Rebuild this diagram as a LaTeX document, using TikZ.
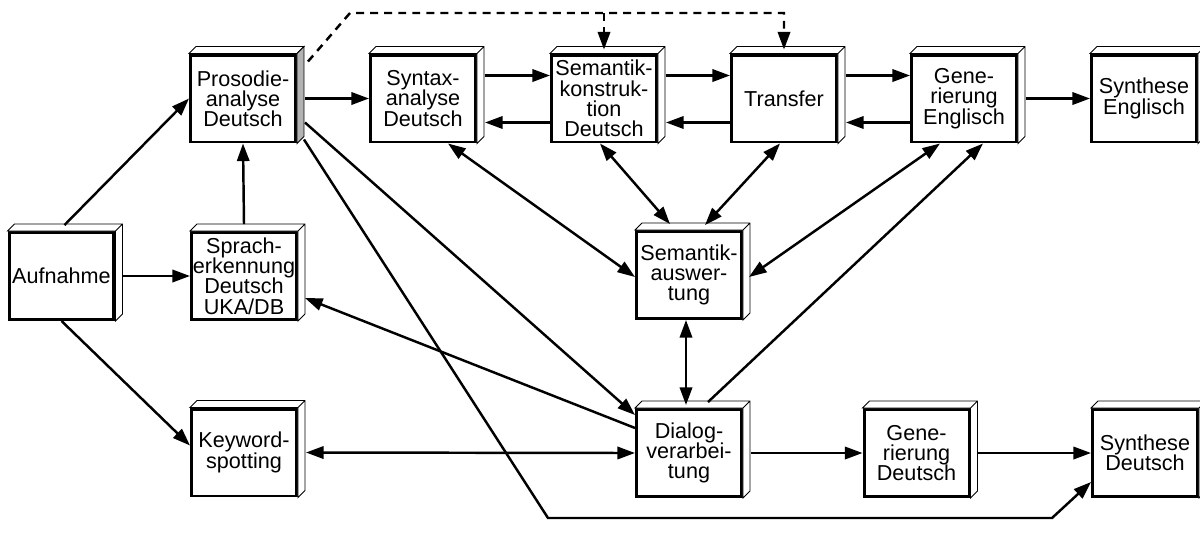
\documentclass[tikz,border=0pt]{standalone}
\usepackage{fontspec}
\setmainfont{Liberation Sans}
\usetikzlibrary{arrows.meta}

\tikzset{
  modul/.style={draw, line width=1.7pt, fill=white, minimum width=2.1cm,
    minimum height=1.74cm, inner sep=0pt, align=center,
    font=\fontsize{12.3}{11.5}\selectfont},
  seite/.style={line width=0.5pt, fill=white},
  pfeil/.style={line width=1.4pt},
  gestrichelt/.style={line width=1.4pt, dash pattern=on 4.5pt off 3.5pt}
}

\begin{document}
\begin{tikzpicture}[x=0.02cm, y=-0.02cm, >={Triangle[length=10pt,width=7pt]}]
\useasboundingbox (0,0) rectangle (1200,532);
%\draw (0,0) rectangle (1200,532);

\draw (61.5,276) node[modul] (auf) {Aufnahme};
\draw (243,98.5) node[modul] (pros) {Prosodie-\\analyse\\Deutsch};
\draw (244,276) node[modul] (sprach) {Sprach-\\erkennung\\Deutsch\\UKA/DB};
\draw (244,452.5) node[modul] (kw) {Keyword-\\spotting};
\draw (423,98.5) node[modul] (syn) {Syntax-\\analyse\\Deutsch};
\draw (604,98.5) node[modul] (semk) {Semantik-\\konstruk-\\tion\\Deutsch};
\draw (784,98.5) node[modul] (trans) {Transfer};
\draw (964,98.5) node[modul] (gene) {Gene-\\rierung\\Englisch};
\draw (1144,98.5) node[modul] (syne) {Synthese\\Englisch};
\draw (689,275) node[modul] (sema) {Semantik-\\auswer-\\tung};
\draw (689,453) node[modul] (dia) {Dialog-\\verarbei-\\tung};
\draw (916.5,453) node[modul] (gend) {Gene-\\rierung\\Deutsch};
\draw (1145,453) node[modul] (synd) {Synthese\\Deutsch};

% Seitenflaechen
\foreach \n in {auf,sprach,kw,syn,semk,trans,gene,syne,sema,dia,gend,synd}
  \draw[seite] (\n.north west) -- ++(7,-7) -| ([shift={(7,-7)}]\n.south east)
    -- (\n.south east) -- (\n.north east) -- cycle
    (\n.north east) -- ++(7,-7);
\draw[seite] (pros.north west) -- ++(7,-7) -- ([shift={(7,-7)}]pros.north east)
  -- (pros.north east) -- cycle;
\draw[seite, fill=gray!60] (pros.north east) -- ++(7,-7)
  -- ([shift={(7,-7)}]pros.south east) -- (pros.south east) -- cycle;

\draw[pfeil,->] ([shift={(3,-6)}]auf.north) -- (pros.west);
\draw[pfeil,->] ([shift={(7,0)}]auf.east) -- (sprach.west);
\draw[pfeil,->] (auf.south) -- ([shift={(0,-7)}]kw.west);
\draw[pfeil,->] ([shift={(0,-7)}]sprach.north) -- (pros.south);
\draw[pfeil,->] ([shift={(8,0)}]pros.east) -- (syn.west);

\draw[pfeil,->] ([shift={(8,-23)}]syn.east) -- ([shift={(0,-23)}]semk.west);
\draw[pfeil,->] ([shift={(0,24)}]semk.west) -- ([shift={(8,24)}]syn.east);
\draw[pfeil,->] ([shift={(8,-23)}]semk.east) -- ([shift={(0,-23)}]trans.west);
\draw[pfeil,->] ([shift={(0,24)}]trans.west) -- ([shift={(8,24)}]semk.east);
\draw[pfeil,->] ([shift={(8,-23)}]trans.east) -- ([shift={(0,-23)}]gene.west);
\draw[pfeil,->] ([shift={(0,24)}]gene.west) -- ([shift={(8,24)}]trans.east);
\draw[pfeil,->] ([shift={(8,0)}]gene.east) -- (syne.west);

% gestrichelte Verbindung
\coordinate (knick) at (350,13);
\draw[gestrichelt,->] ([shift={(11,-37)}]pros.east) -- (knick)
  -| ([shift={(0,-4)}]trans.north);
\draw[gestrichelt,->] (semk.north |- knick) -- ([shift={(0,-4)}]semk.north);

\draw[pfeil,<->] ([shift={(25,0)}]syn.south) -- ([shift={(0,2)}]sema.west);
\draw[pfeil,<->] ([shift={(-4,0)}]semk.south) -- ([shift={(-19,-6)}]sema.north);
\draw[pfeil,<->] ([shift={(-4,0)}]trans.south) -- ([shift={(16,-5)}]sema.north);
\draw[pfeil,<->] ([shift={(-24,0)}]gene.south) -- ([shift={(6,2)}]sema.east);
\draw[pfeil,<->] ([shift={(-3,0)}]sema.south) -- ([shift={(-3,-3)}]dia.north);
\draw[pfeil,->] ([shift={(19,-6)}]dia.north) -- ([shift={(19,0)}]gene.south);

\draw[pfeil,->] ([shift={(8,24)}]pros.east) -- ([shift={(0,-38)}]dia.west);
\draw[pfeil,->] ([shift={(0,-25)}]dia.west) -- ([shift={(7,22)}]sprach.east);
\draw[pfeil,<->] ([shift={(8,0)}]kw.east) -- (dia.west);
\draw[pfeil,->] ([shift={(8,0)}]dia.east) -- (gend.west);
\draw[pfeil,->] ([shift={(8,0)}]gend.east) -- (synd.west);

\coordinate (u1) at (548,518);
\coordinate (u2) at (1052,518);
\draw[pfeil,->] ([shift={(7,-4)}]pros.south east) -- (u1) -- (u2)
  -- ([shift={(0,29)}]synd.west);
\end{tikzpicture}
\end{document}
